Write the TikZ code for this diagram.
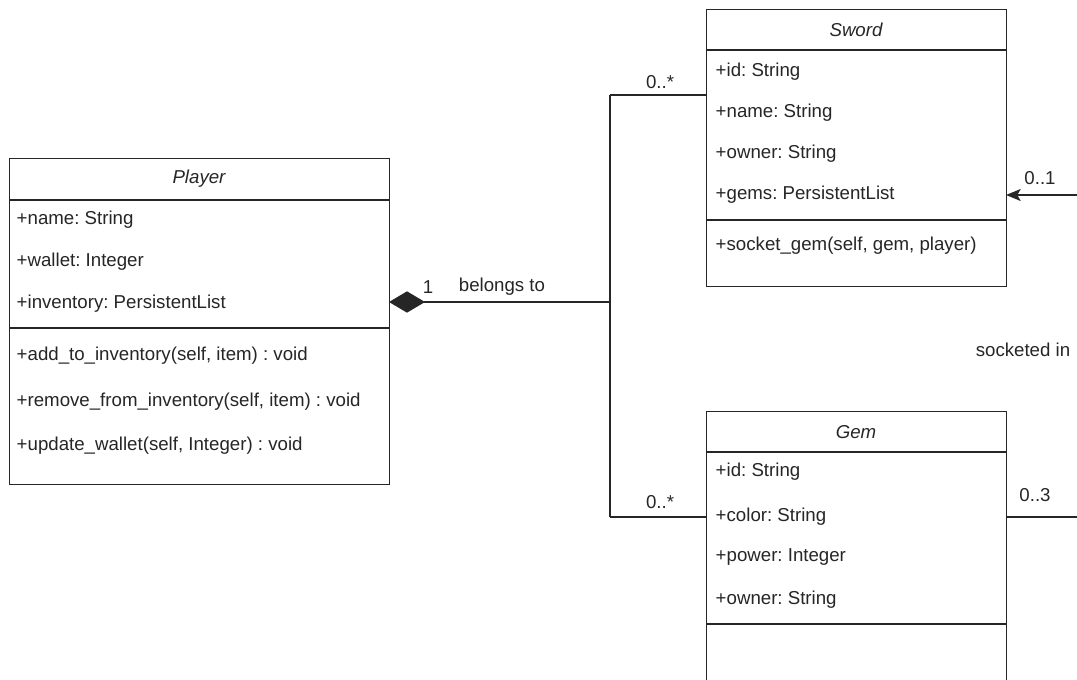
\documentclass[tikz,border=0pt]{standalone}
\usepackage{fontspec}
\setmainfont{Liberation Sans}
\usetikzlibrary{arrows.meta}
\begin{document}
\frenchspacing
\begin{tikzpicture}[x=0.75pt,y=-0.75pt,
  line width=1.1pt, draw=black!85,
  classbox/.style={draw=black!85, line width=1.1pt, fill=white, rectangle, inner sep=0pt, anchor=north west},
  title/.style={font=\fontsize{14}{16}\selectfont\itshape, text=black!85},
  member/.style={font=\fontsize{14}{16}\selectfont, anchor=west, inner sep=0pt, text=black!85},
  lbl/.style={font=\fontsize{14}{16}\selectfont, inner sep=0pt, text=black!85},
  conn/.style={draw=black!85, line width=1.1pt}]
\useasboundingbox (0,0) rectangle (1077,679);
\clip (0,0) rectangle (1077,679);

% Player class
\node[classbox, minimum width=380*0.75pt, minimum height=326*0.75pt] (player) at (9,158) {};
\node[title] (playerT) at (199,179) {Player};
\draw (9,200) -- (389,200);
\draw (9,328) -- (389,328);
\node[member] (p1) at (16,220) {+name: String};
\node[member] (p2) at (16,262) {+wallet: Integer};
\node[member] (p3) at (16,304) {+inventory: PersistentList};
\node[member] (p4) at (16,356) {+add\_to\_inventory(self, item) : void};
\node[member] (p5) at (16,402) {+remove\_from\_inventory(self, item) : void};
\node[member] (p6) at (16,446) {+update\_wallet(self, Integer) : void};

% Sword class
\node[classbox, minimum width=300*0.75pt, minimum height=277*0.75pt] (sword) at (706,9) {};
\node[title] (swordT) at (856,30) {Sword};
\draw (706,50) -- (1006,50);
\draw (706,220) -- (1006,220);
\node[member] (s1) at (715,72) {+id: String};
\node[member] (s2) at (715,113) {+name: String};
\node[member] (s3) at (715,154) {+owner: String};
\node[member] (s4) at (715,195) {+gems: PersistentList};
\node[member] (s5) at (715,246) {+socket\_gem(self, gem, player)};

% Gem class (runs past the lower edge)
\node[classbox, minimum width=300*0.75pt, minimum height=320*0.75pt] (gem) at (706,411) {};
\node[title] (gemT) at (856,432) {Gem};
\draw (706,452) -- (1006,452);
\draw (706,624) -- (1006,624);
\node[member] (g1) at (715,472) {+id: String};
\node[member] (g2) at (715,517) {+color: String};
\node[member] (g3) at (715,557) {+power: Integer};
\node[member] (g4) at (715,600) {+owner: String};

% Composition: Player owns Swords and Gems
\coordinate (pAnchor) at (389,302);
\coordinate (junction) at (610,302);
\coordinate (jTop) at (610,95);
\coordinate (jBot) at (610,517);
\coordinate (sIn) at (706,95);
\coordinate (gIn) at (706,517);
\draw[conn, {Diamond[length=27pt,width=16pt,fill=black!85]}-] (pAnchor) -- (junction);
\draw[conn] (jTop) -- (jBot);
\draw[conn] (jTop) -- (sIn);
\draw[conn] (jBot) -- (gIn);
\node[lbl] (m1) at (428,287) {1};
\node[lbl] (belongs) at (502,287) {belongs to};
\node[lbl] (m2) at (660,82) {0..*};
\node[lbl] (m3) at (660,502) {0..*};

% Gem socketed in Sword
\coordinate (sRight) at (1006,195);
\coordinate (sEdge) at (1077,195);
\coordinate (gRight) at (1006,517);
\coordinate (gEdge) at (1077,517);
\draw[conn, -{Stealth[length=11pt,width=9pt,inset=2.5pt]}] (sEdge) -- (sRight);
\draw[conn] (gRight) -- (gEdge);
\node[lbl] (m4) at (1040,178) {0..1};
\node[lbl] (m5) at (1035,495) {0..3};
\node[lbl] (sock) at (1023,350) {socketed in};
\end{tikzpicture}
\end{document}
